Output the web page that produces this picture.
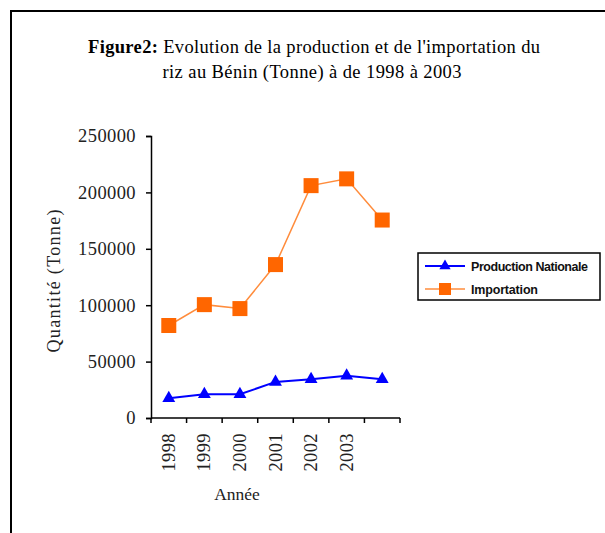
<!DOCTYPE html>
<html>
<head>
<meta charset="utf-8">
<script src="https://cdn.jsdelivr.net/npm/d3@7"></script>
<style>
  body { margin: 0; background: #fff; }
  svg { display: block; }
</style>
</head>
<body>
<div id="chart"></div>
<script>
// categories on the x axis (last point has no label in the original)
const years = ["1998", "1999", "2000", "2001", "2002", "2003", ""];
const production = [17500, 21000, 21000, 32000, 34300, 37500, 34300];
const importation = [82000, 100500, 97000, 136000, 206000, 212000, 175500];
const yTicks = [0, 50000, 100000, 150000, 200000, 250000];

class LineChart {
  constructor(_config) {
    this.config = {
      parentElement: _config.parentElement,
      containerWidth: 605,
      containerHeight: 533,
      margin: { top: 136, left: 151 },
      width: 249,
      height: 282,
    };
    this.initVis();
  }

  initVis() {
    let vis = this;

    vis.svg = d3
      .select(vis.config.parentElement)
      .append("svg")
      .attr("width", vis.config.containerWidth)
      .attr("height", vis.config.containerHeight);

    // frame round the figure, only top and left are in view
    vis.svg
      .append("rect")
      .attr("x", 11)
      .attr("y", 11)
      .attr("width", 700)
      .attr("height", 700)
      .attr("fill", "none")
      .attr("stroke", "#000")
      .attr("stroke-width", 2);

    // title
    const title = vis.svg
      .append("g")
      .attr("font-family", "'Liberation Serif', 'Times New Roman', serif")
      .attr("font-size", 18.5)
      .attr("fill", "#000")
      .attr("text-anchor", "middle");

    const t1 = title
      .append("text")
      .attr("x", 314)
      .attr("y", 53)
      .attr("textLength", 452)
      .attr("lengthAdjust", "spacing");
    t1.append("tspan").attr("font-weight", "bold").text("Figure2:");
    t1.append("tspan").text(" Evolution de la production et de l'importation du");

    title
      .append("text")
      .attr("x", 312)
      .attr("y", 78)
      .attr("textLength", 299)
      .attr("lengthAdjust", "spacing")
      .text("riz au Bénin (Tonne) à de 1998 à 2003");

    vis.chart = vis.svg
      .append("g")
      .attr(
        "transform",
        "translate(" + vis.config.margin.left + "," + vis.config.margin.top + ")"
      );

    vis.xScale = d3
      .scaleBand()
      .domain(d3.range(years.length))
      .range([0, vis.config.width]);

    vis.yScale = d3
      .scaleLinear()
      .domain([0, 250000])
      .range([vis.config.height, 0]);

    vis.updateVis();
  }

  updateVis() {
    let vis = this;
    const cx = (i) => vis.xScale(i) + vis.xScale.bandwidth() / 2;

    // y axis
    const yAxis = d3
      .axisLeft(vis.yScale)
      .tickValues(yTicks)
      .tickSize(5)
      .tickPadding(10)
      .tickFormat(d3.format("d"));

    const yG = vis.chart.append("g").call(yAxis);
    yG.select(".domain").attr("stroke", "#000").attr("stroke-width", 1.5);
    yG.selectAll(".tick line").attr("stroke", "#000").attr("stroke-width", 1.5);
    yG.selectAll(".tick text")
      .attr("font-family", "'Liberation Serif', 'Times New Roman', serif")
      .attr("font-size", 18.5)
      .attr("letter-spacing", 0.4)
      .attr("fill", "#222");

    // x axis: ticks on band edges
    const edges = d3.range(years.length + 1).map((i) =>
      i < years.length ? vis.xScale(i) : vis.config.width
    );
    const xG = vis.chart
      .append("g")
      .attr("transform", "translate(0," + vis.config.height + ")");
    xG.append("line")
      .attr("x1", 0)
      .attr("x2", vis.config.width)
      .attr("stroke", "#000")
      .attr("stroke-width", 1.5);
    xG.selectAll(".xtick")
      .data(edges)
      .join("line")
      .attr("class", "xtick")
      .attr("x1", (d) => d)
      .attr("x2", (d) => d)
      .attr("y1", 0)
      .attr("y2", 5)
      .attr("stroke", "#000")
      .attr("stroke-width", 1.5);
    xG.selectAll(".xlabel")
      .data(years)
      .join("text")
      .attr("class", "xlabel")
      .attr("transform", (d, i) => "translate(" + (cx(i) + 6) + ",15) rotate(-90)")
      .attr("text-anchor", "end")
      .attr("font-family", "'Liberation Serif', 'Times New Roman', serif")
      .attr("font-size", 18.5)
      .attr("letter-spacing", 0.4)
      .attr("fill", "#222")
      .text((d) => d);

    // axis titles
    vis.svg
      .append("text")
      .attr("transform", "translate(60,281) rotate(-90)")
      .attr("text-anchor", "middle")
      .attr("font-family", "'Liberation Serif', 'Times New Roman', serif")
      .attr("font-size", 18)
      .attr("textLength", 143)
      .attr("lengthAdjust", "spacing")
      .attr("fill", "#222")
      .text("Quantité (Tonne)");

    vis.svg
      .append("text")
      .attr("x", 237)
      .attr("y", 500)
      .attr("text-anchor", "middle")
      .attr("font-family", "'Liberation Serif', 'Times New Roman', serif")
      .attr("font-size", 17.5)
      .attr("fill", "#222")
      .text("Année");

    const line = d3
      .line()
      .x((d, i) => cx(i))
      .y((d) => vis.yScale(d));

    // importation series
    vis.chart
      .append("path")
      .datum(importation)
      .attr("d", line)
      .attr("fill", "none")
      .attr("stroke", "#ff8c3c")
      .attr("stroke-width", 1.5);
    vis.chart
      .selectAll(".sq")
      .data(importation)
      .join("rect")
      .attr("class", "sq")
      .attr("x", (d, i) => cx(i) - 7.5)
      .attr("y", (d) => vis.yScale(d) - 7.5)
      .attr("width", 15)
      .attr("height", 15)
      .attr("fill", "#ff6600");

    // production series
    const tri = d3.symbol().type(d3.symbolTriangle).size(72);
    vis.chart
      .append("path")
      .datum(production)
      .attr("d", line)
      .attr("fill", "none")
      .attr("stroke", "#0000ff")
      .attr("stroke-width", 2);
    vis.chart
      .selectAll(".tri")
      .data(production)
      .join("path")
      .attr("class", "tri")
      .attr("transform", (d, i) => "translate(" + cx(i) + "," + vis.yScale(d) + ")")
      .attr("d", tri)
      .attr("fill", "#0000ff");

    vis.renderLegend();
  }

  renderLegend() {
    let vis = this;
    const lg = vis.svg.append("g").attr("transform", "translate(418,253)");

    lg.append("rect")
      .attr("width", 182)
      .attr("height", 47)
      .attr("fill", "#fff")
      .attr("stroke", "#000")
      .attr("stroke-width", 1.5);

    const items = [
      { name: "Production Nationale", color: "#0000ff", w: 117, y: 13 },
      { name: "Importation", color: "#ff6600", w: 67, y: 36 },
    ];

    items.forEach((it, k) => {
      lg.append("line")
        .attr("x1", 7)
        .attr("x2", 47)
        .attr("y1", it.y)
        .attr("y2", it.y)
        .attr("stroke", k == 0 ? "#0000ff" : "#ff8c3c")
        .attr("stroke-width", k == 0 ? 2 : 1.5);
      if (k == 0) {
        lg.append("path")
          .attr("transform", "translate(27," + it.y + ")")
          .attr("d", d3.symbol().type(d3.symbolTriangle).size(55))
          .attr("fill", it.color);
      } else {
        lg.append("rect")
          .attr("x", 21)
          .attr("y", it.y - 6)
          .attr("width", 12)
          .attr("height", 12)
          .attr("fill", it.color);
      }
      lg.append("text")
        .attr("x", 53)
        .attr("y", it.y + 4.5)
        .attr("font-family", "'Liberation Sans', Arial, sans-serif")
        .attr("font-size", 12.5)
        .attr("font-weight", "bold")
        .attr("textLength", it.w)
        .attr("lengthAdjust", "spacing")
        .attr("fill", "#111")
        .text(it.name);
    });
  }
}

new LineChart({ parentElement: "#chart" });
</script>
</body>
</html>
